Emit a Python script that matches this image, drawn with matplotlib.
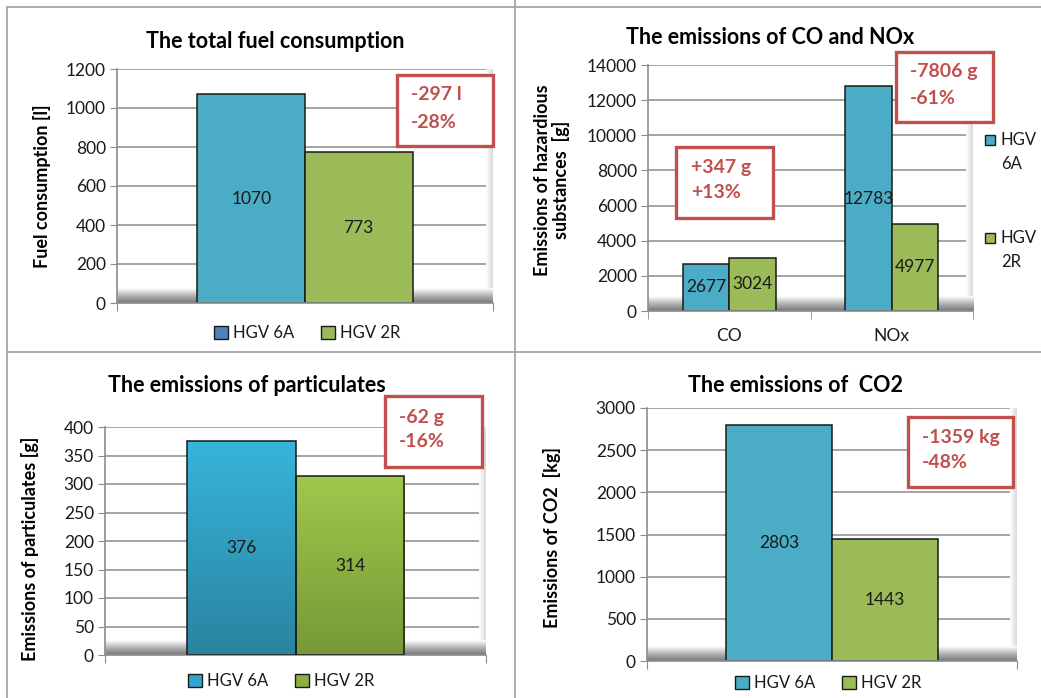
import numpy as np
import matplotlib
matplotlib.use("Agg")
import matplotlib.pyplot as plt
from matplotlib.patches import Rectangle
from matplotlib.lines import Line2D
from matplotlib.colors import LinearSegmentedColormap

# ---------------- data ----------------
series = ["HGV 6A", "HGV 2R"]

fuel_values = [1070, 773]
fuel_change = ["-297 l", "-28%"]

gas_categories = ["CO", "NOx"]
gas_6a = [2677, 12783]
gas_2r = [3024, 4977]
co_change = ["+347 g", "+13%"]
nox_change = ["-7806 g", "-61%"]

pm_values = [376, 314]
pm_change = ["-62 g", "-16%"]

co2_values = [2803, 1443]
co2_change = ["-1359 kg", "-48%"]

# ---------------- style ----------------
W, H = 1041, 698
plt.rcParams["font.family"] = ["Lato", "DejaVu Sans"]
BLUE = "#4bacc6"
GREEN = "#9bbb59"
RED = "#c0504d"
GRID = "#8c8c8c"
TXT = "#1a1a1a"
TITLE_FS = 15.5
TICK_FS = 12.5
LABEL_FS = 13
VALUE_FS = 12.5
NOTE_FS = 14
LEG_FS = 12

fig = plt.figure(figsize=(W / 100, H / 100), dpi=100)
fig.patch.set_facecolor("white")


def fx(x):
    return x / W


def fy(y):
    return 1 - y / H


def make_axes(x0, y0, x1, y1):
    ax = fig.add_axes([fx(x0), fy(y1), (x1 - x0) / W, (y1 - y0) / H])
    ax.set_facecolor("white")
    for s in ("top", "right"):
        ax.spines[s].set_visible(False)
    for s in ("left", "bottom"):
        ax.spines[s].set_color(GRID)
        ax.spines[s].set_linewidth(1.2)
    ax.yaxis.grid(True, color=GRID, linewidth=1.1, zorder=0)
    ax.set_axisbelow(True)
    ax.tick_params(axis="y", length=5, color=GRID, labelsize=TICK_FS,
                   labelcolor=TXT, pad=3)
    # floor and right wall shading of the plot area
    floor = np.linspace(0, 1, 64).reshape(-1, 1)
    floor_cmap = LinearSegmentedColormap.from_list(
        "floor", ["#777777", "#b5b5b5", "#ffffff"])
    h_frac = 15 / (y1 - y0)
    ax.imshow(floor, cmap=floor_cmap, aspect="auto", origin="lower",
              extent=(0, 1, 0, h_frac), transform=ax.transAxes, zorder=0.6)
    wall = np.linspace(0, 1, 64).reshape(1, -1)
    wall_cmap = LinearSegmentedColormap.from_list(
        "wall", ["#ffffff", "#d9d9d9"])
    w_frac = 7 / (x1 - x0)
    ax.imshow(wall, cmap=wall_cmap, aspect="auto", origin="lower",
              extent=(1 - w_frac, 1, 0, 1), transform=ax.transAxes,
              zorder=0.55)
    return ax


def change_box(x0, y0, x1, y1, lines, tx, ty1, ty2):
    fig.patches.append(Rectangle((fx(x0), fy(y1)), (x1 - x0) / W,
                                 (y1 - y0) / H, transform=fig.transFigure,
                                 facecolor="white", edgecolor=RED,
                                 linewidth=2.4, zorder=5))
    fig.text(fx(tx), fy(ty1), lines[0], color=RED, fontsize=NOTE_FS,
             fontweight="bold", ha="left", va="center", zorder=6)
    fig.text(fx(tx), fy(ty2), lines[1], color=RED, fontsize=NOTE_FS,
             fontweight="bold", ha="left", va="center", zorder=6)


def gradient_bar(ax, bar, top, bottom):
    x, y = bar.get_x(), bar.get_y()
    w, h = bar.get_width(), bar.get_height()
    cmap = LinearSegmentedColormap.from_list("g", [bottom, top])
    img = ax.imshow(np.linspace(0, 1, 128).reshape(-1, 1), cmap=cmap,
                    aspect="auto", origin="lower",
                    extent=(x, x + w, y, y + h), zorder=2)
    img.set_clip_path(bar)
    bar.set_facecolor("none")
    bar.set_zorder(3)


def single_panel(ax, values, ymax, step, colors, gradient=None):
    pos = [-0.143, 0.143]
    bars = ax.bar(pos, values, width=0.286, color=colors,
                  edgecolor="#1a1a1a", linewidth=1.1, zorder=2)
    if gradient:
        for b, (top, bottom) in zip(bars, gradient):
            gradient_bar(ax, b, top, bottom)
    for p, v in zip(pos, values):
        ax.text(p, v / 2, f"{v}", ha="center", va="center",
                fontsize=VALUE_FS, color=TXT, zorder=4)
    ax.set_xlim(-0.5, 0.5)
    ax.set_ylim(0, ymax)
    ax.set_yticks(np.arange(0, ymax + 1, step))
    ax.set_xticks([-0.5, 0.5])
    ax.set_xticklabels([])
    ax.tick_params(axis="x", length=6, color=GRID)
    ax.set_aspect("auto")


def bottom_legend(cx, cy, c1, c2):
    handles = [Rectangle((0, 0), 1, 1, facecolor=c1, edgecolor="#1a1a1a",
                         linewidth=1.0),
               Rectangle((0, 0), 1, 1, facecolor=c2, edgecolor="#1a1a1a",
                         linewidth=1.0)]
    fig.legend(handles, series, loc="center",
               bbox_to_anchor=(fx(cx), fy(cy)), ncol=2, frameon=False,
               fontsize=LEG_FS, handlelength=0.85, handleheight=0.85,
               handletextpad=0.3, columnspacing=1.6, labelcolor=TXT)


# ---------------- panel frames ----------------
frame = dict(color="#a6a6a6", linewidth=1.3, transform=fig.transFigure)
fig.lines.append(Line2D([fx(7), 1], [fy(7), fy(7)], **frame))
fig.lines.append(Line2D([fx(7), fx(7)], [fy(7), 0], **frame))
fig.lines.append(Line2D([fx(515), fx(515)], [fy(0), 0], **frame))
fig.lines.append(Line2D([fx(7), 1], [fy(352), fy(352)], **frame))

# ---------------- total fuel consumption ----------------
ax1 = make_axes(117, 69, 493, 303)
single_panel(ax1, fuel_values, 1200, 200, [BLUE, GREEN])
fig.text(fx(275), fy(42), "The total fuel consumption", ha="center",
         va="center", fontsize=TITLE_FS, fontweight="bold", color="black")
fig.text(fx(42), fy(186), "Fuel consumption [l]", ha="center", va="center",
         rotation=90, fontsize=LABEL_FS, fontweight="bold", color="black")
bottom_legend(307, 333, "#4f81bd", GREEN)
change_box(397, 75, 493, 146, fuel_change, 411, 95, 123)

# ---------------- CO and NOx ----------------
ax2 = make_axes(648, 65, 973, 311)
x = np.arange(len(gas_categories))
b6 = ax2.bar(x - 0.143, gas_6a, width=0.286, color=BLUE,
             edgecolor="#1a1a1a", linewidth=1.1, zorder=2)
b2 = ax2.bar(x + 0.143, gas_2r, width=0.286, color=GREEN,
             edgecolor="#1a1a1a", linewidth=1.1, zorder=2)
for xi, v in zip(x - 0.143, gas_6a):
    ax2.text(xi, v / 2, f"{v}", ha="center", va="center", fontsize=VALUE_FS,
             color=TXT, zorder=4)
for xi, v in zip(x + 0.143, gas_2r):
    ax2.text(xi, v / 2, f"{v}", ha="center", va="center", fontsize=VALUE_FS,
             color=TXT, zorder=4)
ax2.set_xlim(-0.5, 1.5)
ax2.set_ylim(0, 14000)
ax2.set_yticks(np.arange(0, 14001, 2000))
ax2.set_xticks(x)
ax2.set_xticklabels(gas_categories, fontsize=TICK_FS, color=TXT)
ax2.set_xticks([-0.5, 0.5, 1.5], minor=True)
ax2.tick_params(axis="x", which="major", length=0, pad=12)
ax2.tick_params(axis="x", which="minor", length=6, color=GRID)
fig.text(fx(552), fy(180), "Emissions of hazardious\nsubstances  [g]",
         ha="center", va="center", rotation=90, fontsize=LABEL_FS,
         fontweight="bold", color="black", linespacing=1.05)
fig.text(fx(770), fy(37), "The emissions of CO and NOx", ha="center",
         va="center", fontsize=TITLE_FS, fontweight="bold", color="black")

# legend at the right of the CO / NOx chart, wrapped labels
legend_rows = [(BLUE, "HGV", "6A", 140), (GREEN, "HGV", "2R", 238)]
for color, top_word, bottom_word, yrow in legend_rows:
    fig.patches.append(Rectangle((fx(985), fy(yrow + 5)), 10 / W, 10 / H,
                                 transform=fig.transFigure, facecolor=color,
                                 edgecolor="#1a1a1a", linewidth=1.0))
    fig.text(fx(1000), fy(yrow), top_word, ha="left", va="center",
             fontsize=LEG_FS, color=TXT)
    fig.text(fx(1001), fy(yrow + 24), bottom_word, ha="left", va="center",
             fontsize=LEG_FS, color=TXT)

change_box(676, 147, 773, 218, co_change, 691, 167, 193)
change_box(896, 52, 993, 122, nox_change, 910, 72, 98)

# ---------------- particulates ----------------
ax3 = make_axes(105, 427, 486, 655)
single_panel(ax3, pm_values, 400, 50, [BLUE, GREEN],
             gradient=[("#37b5db", "#2a84a0"), ("#a0c84b", "#779838")])
fig.text(fx(247), fy(385), "The emissions of particulates", ha="center",
         va="center", fontsize=TITLE_FS, fontweight="bold", color="black")
fig.text(fx(30), fy(549), "Emissions of particulates [g]", ha="center",
         va="center", rotation=90, fontsize=LABEL_FS, fontweight="bold",
         color="black")
bottom_legend(281, 681, "#31a6cc", "#8cb143")
change_box(385, 396, 482, 467, pm_change, 399, 417, 442)

# ---------------- CO2 ----------------
ax4 = make_axes(647, 408, 1017, 661)
single_panel(ax4, co2_values, 3000, 500, [BLUE, GREEN])
fig.text(fx(796), fy(385), "The emissions of  CO2", ha="center",
         va="center", fontsize=TITLE_FS, fontweight="bold", color="black")
fig.text(fx(552), fy(538), "Emissions of CO2  [kg]", ha="center",
         va="center", rotation=90, fontsize=LABEL_FS, fontweight="bold",
         color="black")
bottom_legend(828, 683, BLUE, GREEN)
change_box(908, 417, 1013, 487, co2_change, 922, 437, 463)

fig.savefig("out.png", dpi=100, facecolor="white")
